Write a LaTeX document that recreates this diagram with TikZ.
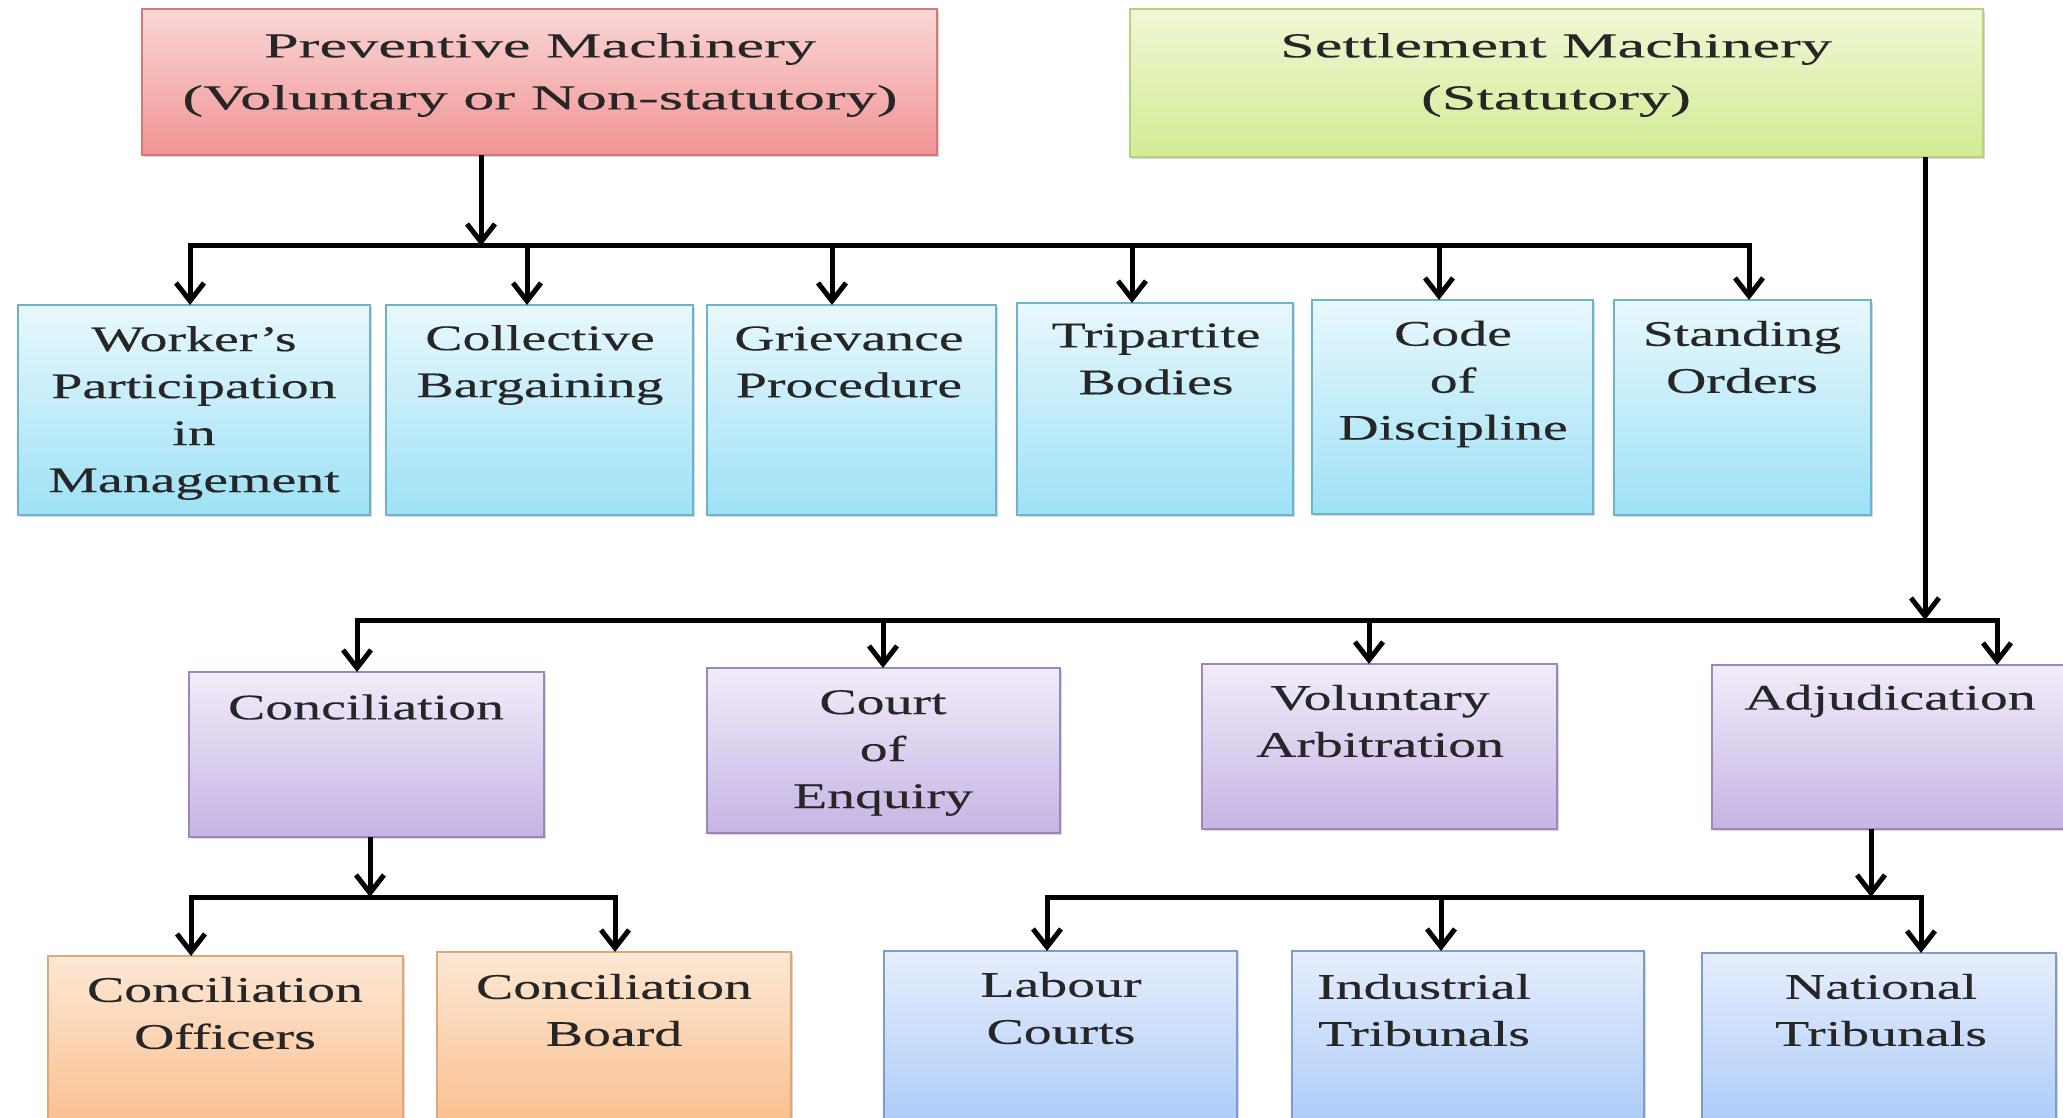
\documentclass[tikz,border=0pt]{standalone}
\usepackage{fontspec}
\setmainfont{Liberation Serif}[FakeStretch=1.55,FakeBold=0.3]
\newfontfamily\titlefont{Liberation Serif}[FakeStretch=1.78,FakeBold=0.3]
\usetikzlibrary{arrows.meta,shadows}
\definecolor{prevT}{RGB}{250,214,214}
\definecolor{prevB}{RGB}{240,148,148}
\definecolor{prevD}{RGB}{215,120,120}
\definecolor{setT}{RGB}{240,247,214}
\definecolor{setB}{RGB}{210,236,148}
\definecolor{setD}{RGB}{185,208,130}
\definecolor{bluT}{RGB}{232,248,253}
\definecolor{bluB}{RGB}{158,225,246}
\definecolor{bluD}{RGB}{110,178,205}
\definecolor{purT}{RGB}{242,236,249}
\definecolor{purB}{RGB}{198,180,228}
\definecolor{purD}{RGB}{155,135,188}
\definecolor{oraT}{RGB}{252,232,212}
\definecolor{oraB}{RGB}{250,188,138}
\definecolor{oraD}{RGB}{222,168,120}
\definecolor{lbT}{RGB}{230,238,253}
\definecolor{lbB}{RGB}{168,200,248}
\definecolor{lbD}{RGB}{125,155,205}
\tikzset{
  bxbase/.style={draw, line width=0.8pt, rectangle, inner sep=0pt, outer sep=0pt,
    drop shadow={shadow xshift=1.2pt, shadow yshift=-1.2pt, opacity=0.3}},
  prevbox/.style={bxbase, draw=prevD, top color=prevT, bottom color=prevB},
  setbox/.style={bxbase, draw=setD, top color=setT, bottom color=setB},
  bluebox/.style={bxbase, draw=bluD, top color=bluT, bottom color=bluB},
  purbox/.style={bxbase, draw=purD, top color=purT, bottom color=purB},
  orabox/.style={bxbase, draw=oraD, top color=oraT, bottom color=oraB},
  lbbox/.style={bxbase, draw=lbD, top color=lbT, bottom color=lbB},
  ttl/.style={font=\titlefont\fontsize{17.5}{26}\selectfont, align=center, text=black!85, inner sep=0pt},
  txt/.style={font=\fontsize{18}{23.5}\selectfont, align=center, text=black!85, inner sep=0pt},
  ln/.style={line width=2.5pt, line join=miter},
  arr/.style={ln, -{Straight Barb[length=9pt,width=14pt]}},
}
\newcommand\bx[6]{%
  \node[#6, minimum width={(#4-#2)*0.5pt}, minimum height={(#5-#3)*0.5pt}] (#1)
    at ({(#2+#4)/2},{(#3+#5)/2}) {};}
\begin{document}
\begin{tikzpicture}[x=0.5pt,y=-0.5pt]
\useasboundingbox (0,0) rectangle (2063,1118);
\clip (0,0) rectangle (2063,1118);
\fill[white] (0,0) rectangle (2063,1118);

% boxes
\bx{prev}{142}{9}{937}{155}{prevbox}
\bx{sett}{1130}{9}{1983}{157}{setbox}
\bx{wpm}{18}{305}{370}{515}{bluebox}
\bx{cb}{386}{305}{693}{515}{bluebox}
\bx{gp}{707}{305}{996}{515}{bluebox}
\bx{tb}{1017}{303}{1293}{515}{bluebox}
\bx{cod}{1312}{300}{1593}{514}{bluebox}
\bx{so}{1614}{300}{1871}{515}{bluebox}
\bx{con}{189}{672}{544}{837}{purbox}
\bx{coe}{707}{668}{1060}{833}{purbox}
\bx{va}{1202}{664}{1557}{829}{purbox}
\bx{adj}{1712}{665}{2075}{829}{purbox}
\bx{co}{48}{956}{403}{1140}{orabox}
\bx{cbd}{437}{952}{791}{1140}{orabox}
\bx{lc}{884}{951}{1237}{1140}{lbbox}
\bx{it}{1292}{951}{1644}{1140}{lbbox}
\bx{nt}{1702}{953}{2056}{1140}{lbbox}

% texts
\node[ttl] (prev-t) at (540,75) {Preventive Machinery\\(Voluntary or Non-statutory)};
\node[ttl] (sett-t) at (1556,75) {Settlement Machinery\\(Statutory)};
\node[txt] (wpm-t) at (194,413) {Worker’s\\Participation\\in\\Management};
\node[txt] (cb-t) at (540,365) {Collective\\Bargaining};
\node[txt] (gp-t) at (849,362) {Grievance\\Procedure};
\node[txt] (tb-t) at (1156,359) {Tripartite\\Bodies};
\node[txt] (cod-t) at (1453,384) {Code\\of\\Discipline};
\node[txt] (so-t) at (1742,357) {Standing\\Orders};
\node[txt] (con-t) at (366,707) {Conciliation};
\node[txt] (coe-t) at (883,753) {Court\\of\\Enquiry};
\node[txt] (va-t) at (1380,721) {Voluntary\\Arbitration};
\node[txt] (adj-t) at (1890,701) {Adjudication};
\node[txt] (co-t) at (225,1013) {Conciliation\\Officers};
\node[txt] (cbd-t) at (614,1010) {Conciliation\\Board};
\node[txt] (lc-t) at (1061,1008) {Labour\\Courts};
\node[txt] (it-t) at (1424,1010) {Industrial\\Tribunals};
\node[txt] (nt-t) at (1881,1010) {National\\Tribunals};

% level 1 connectors
\coordinate (j1) at (481,246);
\coordinate (a1) at (190,246);
\coordinate (a2) at (527,246);
\coordinate (a3) at (832,246);
\coordinate (a4) at (1132,246);
\coordinate (a5) at (1439,246);
\coordinate (a6) at (1749,246);
\draw[arr] (prev.south -| j1) -- (j1);
\draw[arr] (j1) -- (a1) -- (wpm.north -| a1);
\draw[arr] (j1) -- (a6) -- (so.north -| a6);
\draw[arr] (a2) -- (cb.north -| a2);
\draw[arr] (a3) -- (gp.north -| a3);
\draw[arr] (a4) -- (tb.north -| a4);
\draw[arr] (a5) -- (cod.north -| a5);

% level 2 connectors
\coordinate (j2) at (1925,620);
\coordinate (b1) at (357,620);
\coordinate (b2) at (883,620);
\coordinate (b3) at (1369,620);
\coordinate (b4) at (1997,620);
\draw[arr] (sett.south -| j2) -- (j2);
\draw[arr] (j2) -- (b1) -- (con.north -| b1);
\draw[arr] (j2) -- (b4) -- (adj.north -| b4);
\draw[arr] (b2) -- (coe.north -| b2);
\draw[arr] (b3) -- (va.north -| b3);

% level 3 left
\coordinate (j3) at (370,897);
\coordinate (c1) at (191,897);
\coordinate (c2) at (615,897);
\draw[arr] (con.south -| j3) -- (j3);
\draw[arr] (j3) -- (c1) -- (co.north -| c1);
\draw[arr] (j3) -- (c2) -- (cbd.north -| c2);

% level 3 right
\coordinate (j4) at (1871,897);
\coordinate (d1) at (1047,897);
\coordinate (d2) at (1441,897);
\coordinate (d3) at (1921,897);
\draw[arr] (adj.south -| j4) -- (j4);
\draw[arr] (j4) -- (d1) -- (lc.north -| d1);
\draw[arr] (j4) -- (d3) -- (nt.north -| d3);
\draw[arr] (d2) -- (it.north -| d2);
\end{tikzpicture}
\end{document}
